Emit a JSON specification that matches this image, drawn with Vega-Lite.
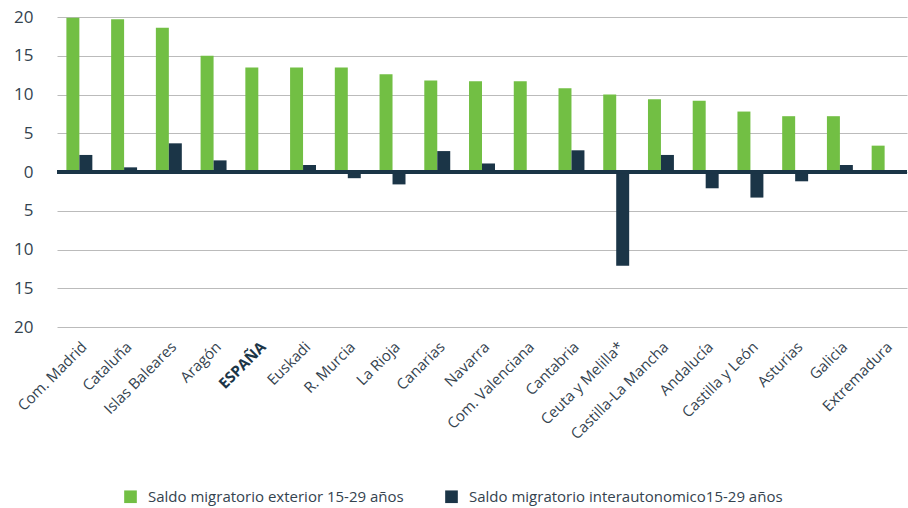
{
  "$schema": "https://vega.github.io/schema/vega-lite/v6.json",
  "width": 850,
  "height": 310,
  "autosize": "none",
  "padding": {"left": 57, "top": 17, "right": 1, "bottom": 181},
  "background": "white",
  "config": {"view": {"stroke": null}, "font": "Open Sans"},
  "data": {"values": [
    {"region": "Com. Madrid", "serie": "Saldo migratorio exterior 15-29 años", "valor": 19.9},
    {"region": "Com. Madrid", "serie": "Saldo migratorio interautonomico15-29 años", "valor": 2.2},
    {"region": "Cataluña", "serie": "Saldo migratorio exterior 15-29 años", "valor": 19.7},
    {"region": "Cataluña", "serie": "Saldo migratorio interautonomico15-29 años", "valor": 0.6},
    {"region": "Islas Baleares", "serie": "Saldo migratorio exterior 15-29 años", "valor": 18.6},
    {"region": "Islas Baleares", "serie": "Saldo migratorio interautonomico15-29 años", "valor": 3.7},
    {"region": "Aragón", "serie": "Saldo migratorio exterior 15-29 años", "valor": 15.0},
    {"region": "Aragón", "serie": "Saldo migratorio interautonomico15-29 años", "valor": 1.5},
    {"region": "ESPAÑA", "serie": "Saldo migratorio exterior 15-29 años", "valor": 13.5},
    {"region": "ESPAÑA", "serie": "Saldo migratorio interautonomico15-29 años", "valor": 0},
    {"region": "Euskadi", "serie": "Saldo migratorio exterior 15-29 años", "valor": 13.5},
    {"region": "Euskadi", "serie": "Saldo migratorio interautonomico15-29 años", "valor": 0.9},
    {"region": "R. Murcia", "serie": "Saldo migratorio exterior 15-29 años", "valor": 13.5},
    {"region": "R. Murcia", "serie": "Saldo migratorio interautonomico15-29 años", "valor": -0.8},
    {"region": "La Rioja", "serie": "Saldo migratorio exterior 15-29 años", "valor": 12.6},
    {"region": "La Rioja", "serie": "Saldo migratorio interautonomico15-29 años", "valor": -1.6},
    {"region": "Canarias", "serie": "Saldo migratorio exterior 15-29 años", "valor": 11.8},
    {"region": "Canarias", "serie": "Saldo migratorio interautonomico15-29 años", "valor": 2.7},
    {"region": "Navarra", "serie": "Saldo migratorio exterior 15-29 años", "valor": 11.7},
    {"region": "Navarra", "serie": "Saldo migratorio interautonomico15-29 años", "valor": 1.1},
    {"region": "Com. Valenciana", "serie": "Saldo migratorio exterior 15-29 años", "valor": 11.7},
    {"region": "Com. Valenciana", "serie": "Saldo migratorio interautonomico15-29 años", "valor": 0},
    {"region": "Cantabria", "serie": "Saldo migratorio exterior 15-29 años", "valor": 10.8},
    {"region": "Cantabria", "serie": "Saldo migratorio interautonomico15-29 años", "valor": 2.8},
    {"region": "Ceuta y Melilla*", "serie": "Saldo migratorio exterior 15-29 años", "valor": 10.0},
    {"region": "Ceuta y Melilla*", "serie": "Saldo migratorio interautonomico15-29 años", "valor": -12.1},
    {"region": "Castilla-La Mancha", "serie": "Saldo migratorio exterior 15-29 años", "valor": 9.4},
    {"region": "Castilla-La Mancha", "serie": "Saldo migratorio interautonomico15-29 años", "valor": 2.2},
    {"region": "Andalucía", "serie": "Saldo migratorio exterior 15-29 años", "valor": 9.2},
    {"region": "Andalucía", "serie": "Saldo migratorio interautonomico15-29 años", "valor": -2.1},
    {"region": "Castilla y León", "serie": "Saldo migratorio exterior 15-29 años", "valor": 7.8},
    {"region": "Castilla y León", "serie": "Saldo migratorio interautonomico15-29 años", "valor": -3.3},
    {"region": "Asturias", "serie": "Saldo migratorio exterior 15-29 años", "valor": 7.2},
    {"region": "Asturias", "serie": "Saldo migratorio interautonomico15-29 años", "valor": -1.2},
    {"region": "Galicia", "serie": "Saldo migratorio exterior 15-29 años", "valor": 7.2},
    {"region": "Galicia", "serie": "Saldo migratorio interautonomico15-29 años", "valor": 0.9},
    {"region": "Extremadura", "serie": "Saldo migratorio exterior 15-29 años", "valor": 3.4},
    {"region": "Extremadura", "serie": "Saldo migratorio interautonomico15-29 años", "valor": 0}
  ]},
  "layer": [
    {
      "mark": {"type": "bar"},
      "encoding": {
        "x": {
          "field": "region", "type": "nominal", "sort": null,
          "scale": {"paddingInner": 0.42, "paddingOuter": 0.21},
          "axis": {
            "title": null, "domain": false, "ticks": false, "grid": false,
            "labelAngle": -45, "labelFontSize": 15, "labelPadding": 12, "labelLimit": 0,
            "labelColor": {"condition": {"test": "datum.value === 'ESPAÑA'", "value": "#1b3547"}, "value": "#34434f"},
            "labelFontWeight": {"condition": {"test": "datum.value === 'ESPAÑA'", "value": "bold"}, "value": "normal"}
          }
        },
        "xOffset": {"field": "serie", "type": "nominal", "sort": null, "scale": {"paddingInner": 0, "paddingOuter": 0}},
        "y": {
          "field": "valor", "type": "quantitative",
          "scale": {"domain": [-20, 20], "nice": false, "zero": true},
          "axis": {
            "title": null, "domain": false, "ticks": false,
            "values": [-20, -15, -10, -5, 0, 5, 10, 15, 20], "tickCount": 40,
            "labelExpr": "toString(abs(datum.value))", "labelOverlap": false,
            "labelFontSize": 17, "labelColor": "#34434f", "labelPadding": 24,
            "gridColor": "#bbbbbb", "gridWidth": 1.2
          }
        },
        "color": {
          "field": "serie", "type": "nominal", "sort": null,
          "scale": {"range": ["#72bf44", "#1b3547"]},
          "legend": {
            "title": null, "orient": "none", "direction": "horizontal",
            "legendX": 66, "legendY": 472,
            "symbolType": "square", "symbolSize": 160, "symbolStrokeWidth": 0,
            "labelFontSize": 15, "labelColor": "#34434f", "labelOffset": 10, "labelLimit": 0,
            "columnPadding": 40
          }
        }
      }
    },
    {
      "mark": {"type": "rule", "color": "#1b3547", "strokeWidth": 3},
      "encoding": {"y": {"datum": 0}}
    }
  ]
}
